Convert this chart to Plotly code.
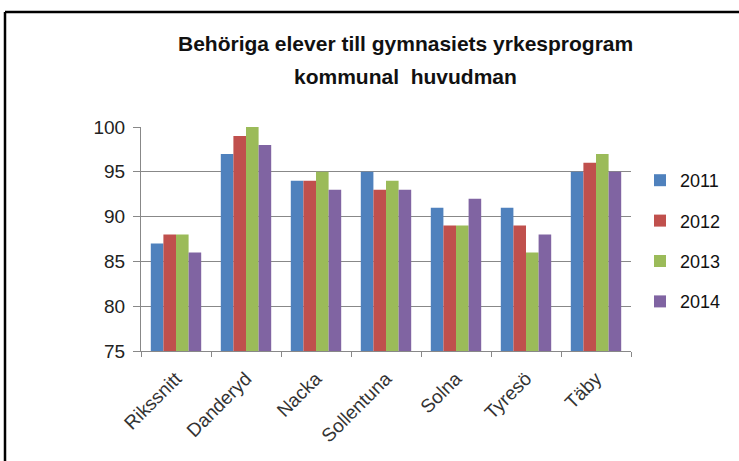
import plotly.graph_objects as go

categories = ["Rikssnitt", "Danderyd", "Nacka", "Sollentuna", "Solna", "Tyresö", "Täby"]
years = ["2011", "2012", "2013", "2014"]
v2011 = [87, 97, 94, 95, 91, 91, 95]
v2012 = [88, 99, 94, 93, 89, 89, 96]
v2013 = [88, 100, 95, 94, 89, 86, 97]
v2014 = [86, 98, 93, 93, 92, 88, 95]
series = [v2011, v2012, v2013, v2014]
colors = ["#4F81BD", "#C0504D", "#9BBB59", "#8064A2"]
title_lines = ["Behöriga elever till gymnasiets yrkesprogram", "kommunal  huvudman"]

W, H = 739, 461
L, T = 141, 127
PR, PB = 631, 351
R, B = W - PR, H - PB
pw, ph = PR - L, PB - T

def px(x):
    return (x - L) / pw

def py(y):
    return (PB - y) / ph

fig = go.Figure()
for y, vals, c in zip(years, series, colors):
    fig.add_trace(go.Bar(name=y, x=categories, y=vals, marker=dict(color=c, line=dict(width=0)),
                         legendgroup=y))

font = "Liberation Sans, Arial, sans-serif"
fig.update_layout(
    width=W, height=H,
    margin=dict(l=L, r=R, t=T, b=B, autoexpand=False),
    paper_bgcolor="white", plot_bgcolor="white",
    barmode="group", bargap=0.28, bargroupgap=0,
    font=dict(family=font, size=18, color="#222"),
    legend=dict(x=px(640), xanchor="left", y=py(241), yanchor="middle",
                font=dict(size=18, color="#111"), tracegroupgap=14,
                bgcolor="rgba(0,0,0,0)"),
    showlegend=True,
)
for i, (txt, yc) in enumerate(zip(title_lines, [43, 76])):
    fig.add_annotation(text="<b>" + txt + "</b>", xref="paper", yref="paper",
                       x=px(405), y=py(yc), xanchor="center", yanchor="middle",
                       showarrow=False, font=dict(family=font, size=21, color="#111"))
fig.update_yaxes(range=[75, 100], dtick=5, showgrid=True, gridcolor="#888888", gridwidth=1,
                 showline=True, linecolor="#888888", linewidth=1, ticks="outside", ticklen=7,
                 tickcolor="#888888", tickfont=dict(size=19, color="#222"), zeroline=False,
                 ticklabelstandoff=4)
fig.update_xaxes(showline=True, linecolor="#888888", linewidth=1, ticks="outside", ticklen=5,
                 tickcolor="#888888", tickson="boundaries", tickangle=-45,
                 tickfont=dict(size=19, color="#333"), ticklabelstandoff=8)
# outer frame (only top and left edges fall inside the picture)
fig.add_shape(type="line", xref="paper", yref="paper", x0=px(5), x1=px(745), y0=py(12), y1=py(12),
              line=dict(color="black", width=2.5))
fig.add_shape(type="line", xref="paper", yref="paper", x0=px(5), x1=px(5), y0=py(12), y1=py(470),
              line=dict(color="black", width=2.5))
fig.write_html("out.html", config={"displayModeBar": False},
               post_script="document.body.style.margin='0px';")
